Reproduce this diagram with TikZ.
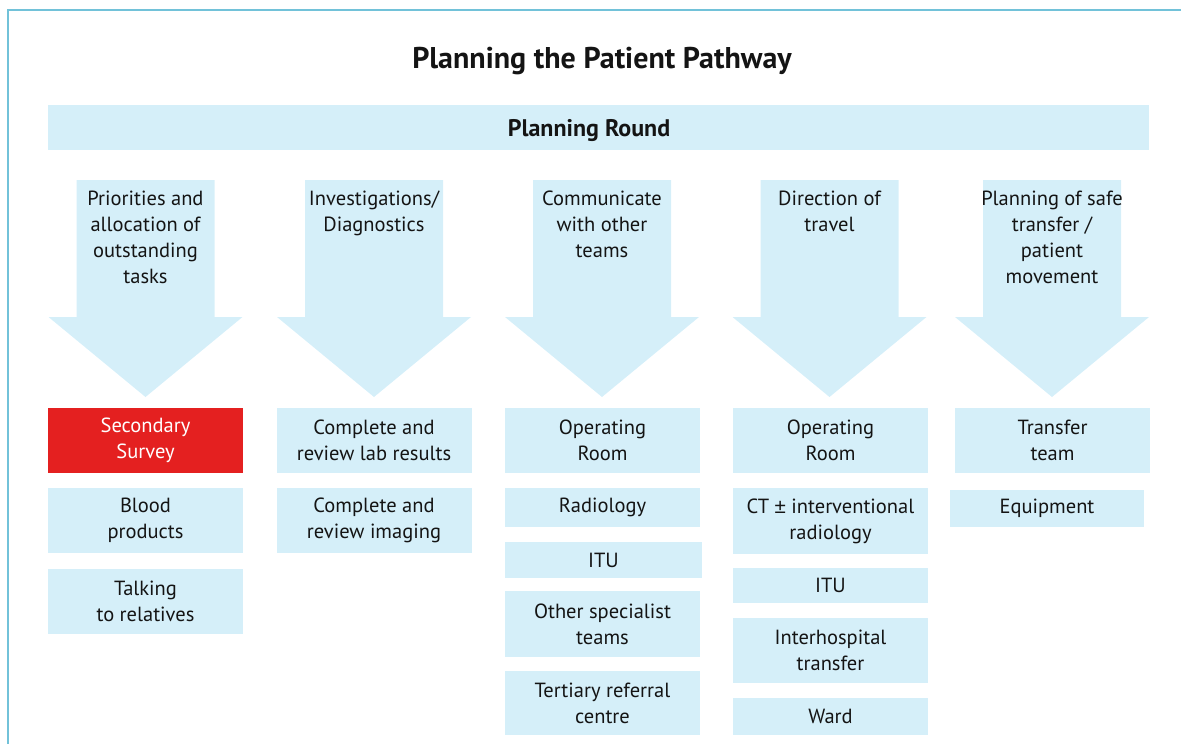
\documentclass[tikz,border=0pt]{standalone}
\usepackage{fontspec}
\setmainfont{PT Sans}
\newfontfamily\pmfont{Liberation Sans}
\definecolor{lb}{HTML}{D5EFF9}
\definecolor{rd}{HTML}{E42020}
\definecolor{framec}{HTML}{72C2D9}
\definecolor{ink}{HTML}{141414}
\newcommand\bigarrowshape[1]{%
  \fill[lb] (#1-69,180) -- (#1+69,180) -- (#1+69,317) -- (#1+97,317) -- (#1,397) -- (#1-97,317) -- (#1-69,317) -- cycle;}
\begin{document}
\begin{tikzpicture}[x=1pt,y=-1pt,
  txt/.style={inner sep=0pt, align=center, text=ink, font=\fontsize{20.5}{26}\selectfont},
  box/.style={txt, fill=lb, minimum width=195pt},
  tall/.style={box, minimum height=65pt},
  short/.style={box, minimum height=37pt},
  arrtext/.style={txt, anchor=north}]
\useasboundingbox (0,0) rectangle (1181,744);
\draw[framec, line width=2.2pt] (8,745) -- (8,10) -- (1182,10);

\node[txt, font=\bfseries\fontsize{30}{36}\selectfont] (title) at (602,61) {Planning the Patient Pathway};
\node[fill=lb, inner sep=0pt, minimum width=1101pt, minimum height=45pt] (round) at (598.5,127.5) {};
\node[txt, font=\bfseries\fontsize{24}{30}\selectfont] (roundtxt) at (589,131) {Planning Round};

% arrows
\bigarrowshape{145.5}
\bigarrowshape{374}
\bigarrowshape{602}
\bigarrowshape{829.5}
\bigarrowshape{1052}
\node[arrtext] (a1) at (145.5,191) {Priorities and\\allocation of\\outstanding\\tasks};
\node[arrtext] (a2) at (374,191) {Investigations/\\Diagnostics};
\node[arrtext] (a3) at (602,191) {Communicate\\with other\\teams};
\node[arrtext] (a4) at (829.5,191) {Direction of\\travel};
\node[arrtext] (a5) at (1052,191) {Planning of safe\\transfer /\\patient\\movement};

% column 1
\node[tall, fill=rd, text=white] (c1a) at (145.5,440.5) {Secondary\\Survey};
\node[tall] (c1b) at (145.5,520.5) {Blood\\products};
\node[tall] (c1c) at (145.5,601) {Talking\\to relatives};
% column 2
\node[tall] (c2a) at (374,440.5) {Complete and\\review lab results};
\node[tall] (c2b) at (374,520.5) {Complete and\\review imaging};
% column 3
\node[tall] (c3a) at (602.5,440.5) {Operating\\Room};
\node[short, minimum height=39pt] (c3b) at (602.5,507.5) {Radiology};
\node[short, minimum width=197pt, minimum height=36pt] (c3c) at (603.5,560) {ITU};
\node[tall, minimum height=66pt] (c3d) at (602.5,624) {Other specialist\\teams};
\node[tall, minimum height=64pt] (c3e) at (602.5,703) {Tertiary referral\\centre};
% column 4
\node[tall] (c4a) at (830.5,440.5) {Operating\\Room};
\node[tall, minimum height=66pt] (c4b) at (830.5,521) {CT {\pmfont ±} interventional\\radiology};
\node[short, minimum height=35pt] (c4c) at (830.5,585.5) {ITU};
\node[tall] (c4d) at (830.5,650.5) {Interhospital\\transfer};
\node[short] (c4e) at (830.5,716.5) {Ward};
% column 5
\node[tall] (c5a) at (1052.5,440.5) {Transfer\\team};
\node[short, minimum width=194pt] (c5b) at (1047,508.5) {Equipment};
\end{tikzpicture}
\end{document}
